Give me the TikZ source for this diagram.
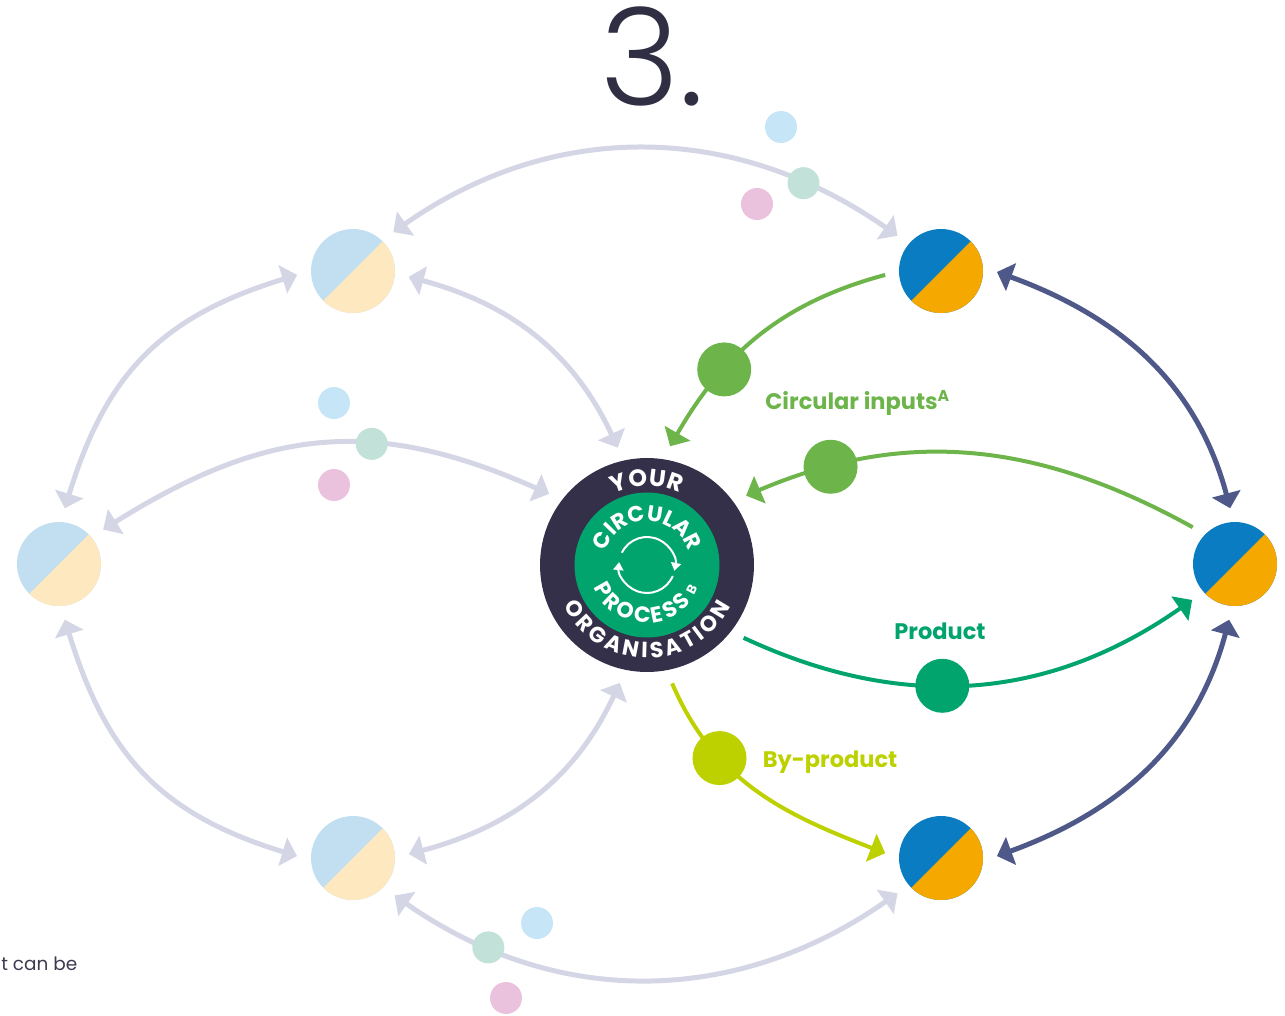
\documentclass[tikz,border=0pt]{standalone}
\usepackage{fontspec}
\setmainfont{Poppins}
\newfontfamily\titlefont{Poppins Light}
\usepackage{tikz}
\usetikzlibrary{arrows.meta}
\usetikzlibrary{calc}
\usetikzlibrary{positioning}
\usetikzlibrary{decorations.text}

\definecolor{pieblue}{HTML}{0A7DC2}
\definecolor{pieorange}{HTML}{F5A800}
\definecolor{paleblue}{HTML}{C2DFF2}
\definecolor{paleorange}{HTML}{FEE8BF}
\definecolor{orgdark}{HTML}{35304A}
\definecolor{procgreen}{HTML}{00A46C}
\definecolor{inputgreen}{HTML}{6DB54A}
\definecolor{bylime}{HTML}{BDD100}
\definecolor{linkdark}{HTML}{4F5989}
\definecolor{linkpale}{HTML}{D4D6E5}
\definecolor{dotblue}{HTML}{C6E6F7}
\definecolor{dotmint}{HTML}{C2E2D9}
\definecolor{dotpink}{HTML}{EBC2DE}
\definecolor{titlegray}{HTML}{2F2E43}
\definecolor{notegray}{HTML}{3C3A4F}

\newcommand{\ringfont}{\color{white}\bfseries\fontsize{13.5}{15}\selectfont}
\newcommand{\bandfont}{\color{white}\bfseries\fontsize{12.5}{14}\selectfont}
\newcommand{\corefont}{\color{white}\bfseries\fontsize{12.5}{14}\selectfont}

\tikzset{
	pie/.style 2 args={circle, minimum size=1.68cm, inner sep=0pt, outer sep=0.28cm, fill=#1,
		path picture={\fill[#2] (path picture bounding box.north east) -- (path picture bounding box.south west) -- (path picture bounding box.south east) -- cycle;}},
	smalldot/.style={circle, fill=#1, minimum size=0.64cm, inner sep=0pt},
	bigdot/.style={circle, fill=#1, minimum size=1.08cm, inner sep=0pt},
	palelink/.style={linkpale, line width=0.1cm, >={Triangle[length=0.3cm,width=0.58cm]}, <->},
	darklink/.style={linkdark, line width=0.1cm, >={Triangle[length=0.3cm,width=0.58cm]}, <->},
	flowlink/.style={#1, line width=0.08cm, >={Triangle[length=0.3cm,width=0.58cm]}, ->},
	flowlabel/.style={text=#1, font=\bfseries\fontsize{12.8}{14}\selectfont, inner sep=0pt}
}

\begin{document}
\begin{tikzpicture}[x=0.02cm, y=-0.02cm]
	\useasboundingbox (0,0) rectangle (1285,1015);

	\node[text=titlegray, font=\titlefont\fontsize{77}{80}\selectfont, inner sep=0pt, anchor=base] (title) at (652,105) {3.};
	\node[text=notegray, font=\fontsize{10.5}{12}\selectfont, inner sep=0pt, anchor=base west] (note) at (1,970) {t can be};

	\node[pie={paleblue}{paleorange}] (tl) at (353,271) {};
	\node[pie={pieblue}{pieorange}] (tr) at (941,271) {};
	\node[pie={paleblue}{paleorange}] (l) at (59,564) {};
	\node[pie={pieblue}{pieorange}] (r) at (1235,564) {};
	\node[pie={paleblue}{paleorange}] (bl) at (353,858) {};
	\node[pie={pieblue}{pieorange}] (br) at (941,858) {};
	\node[circle, fill=orgdark, minimum size=4.28cm, inner sep=0pt, outer sep=0.28cm] (org) at (647,565) {};
	\node[circle, fill=procgreen, minimum size=2.9cm, inner sep=0pt] (proc) at (org) {};

	\draw[palelink] (tr.141) to[out=145, in=35] node[smalldot=dotmint, pos=0.19] (topmint) {} (tl.44);
	\draw[palelink] (tl.184) to[out=197, in=73, looseness=1.1] (l.84);
	\draw[palelink] (tl.354) to[out=-15, in=115] (org.104);
	\draw[palelink] (org.144) to[out=156, in=32, looseness=1.1] node[smalldot=dotmint, pos=0.38] (midmint) {} (l.38);
	\draw[palelink] (l.-84) to[out=-73, in=163, looseness=1.1] (bl.178);
	\draw[palelink] (bl.4) to[out=15, in=-115] (org.-103);
	\draw[palelink] (bl.-42) to[out=-35, in=-145] node[smalldot=dotmint, pos=0.19] (lowmint) {} (br.-141);
	\draw[darklink] (tr.-1) to[out=-20, in=105] (r.95);
	\draw[darklink] (r.-96) to[out=-105, in=20] (br.2);

	\node[smalldot=dotblue] (topblue) at (781,127) {};
	\node[smalldot=dotpink] (toppink) at (757,204) {};
	\node[smalldot=dotblue] (midblue) at (334,403) {};
	\node[smalldot=dotpink] (midpink) at (334,485) {};
	\node[smalldot=dotblue] (lowblue) at (537,923) {};
	\node[smalldot=dotpink] (lowpink) at (506,998) {};

	\draw[flowlink=inputgreen] (tr.184) to[out=195, in=60] node[bigdot=inputgreen, pos=0.68] (indot) {} (org.79);
	\draw[flowlink=inputgreen] (r.139) to[out=151, in=23] node[bigdot=inputgreen, pos=0.82] (backdot) {} (org.35);
	\draw[flowlink=procgreen] (org.-37) to[out=-25, in=215] node[bigdot=procgreen, pos=0.43] (proddot) {} (r.220);
	\draw[flowlink=bylime] (org.-78) to[out=-67, in=159] node[bigdot=bylime, pos=0.31] (bydot) {} (br.175);

	\node[flowlabel=inputgreen, anchor=base west] (inlabel) at (765,409) {Circular inputs\textsuperscript{A}};
	\node[flowlabel=procgreen, anchor=base] (prodlabel) at (940,639) {Product};
	\node[flowlabel=bylime, anchor=base] (bylabel) at (830,767) {By-product};

	\begin{scope}[shift={(org.center)}, x=1cm, y=1cm]
		\path[decorate, decoration={text along path, text align=fit to path, text={|\ringfont|YOUR}}] (115:1.58) arc[start angle=115, end angle=65, radius=1.58];
		\path[decorate, decoration={text along path, text align=fit to path, text={|\bandfont|ORGANISATION}}] (206:1.86) arc[start angle=206, end angle=334, radius=1.86];
		\path[decorate, decoration={text along path, text align=fit to path, text={|\corefont|CIRCULAR}}] (162:0.88) arc[start angle=162, end angle=18, radius=0.88];
		\path[decorate, decoration={text along path, text align=fit to path, text={|\corefont|PROCESS}}] (203:1.16) arc[start angle=203, end angle=320, radius=1.16];
		\node[text=white, font=\bfseries\fontsize{7.5}{8}\selectfont, rotate=63, inner sep=0pt] (supb) at (331:1.02) {B};
		\draw[white, line width=0.04cm, -{Triangle[length=0.16cm,width=0.2cm]}] (154:0.56) arc[start angle=154, end angle=-12, radius=0.56];
		\draw[white, line width=0.04cm, -{Triangle[length=0.16cm,width=0.2cm]}] (-23:0.56) arc[start angle=-23, end angle=-186, radius=0.56];
	\end{scope}
\end{tikzpicture}
\end{document}
